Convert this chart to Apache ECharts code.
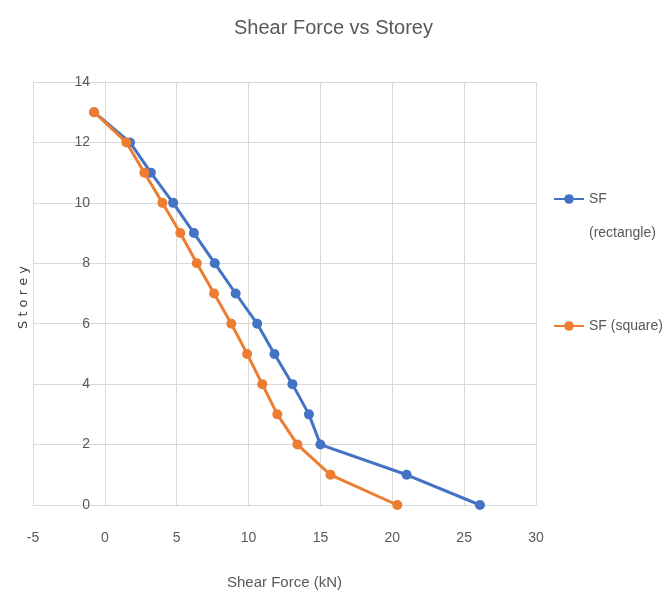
<!DOCTYPE html>
<html>
<head>
<meta charset="utf-8">
<script src="https://cdn.jsdelivr.net/npm/echarts@6/dist/echarts.min.js"></script>
<style>
  html, body { margin: 0; padding: 0; background: #fff; }
  #main { width: 669px; height: 596px; }
</style>
</head>
<body>
<div id="main"></div>
<script>
// storey levels (y) and shear force values (x)
var storeys = [13, 12, 11, 10, 9, 8, 7, 6, 5, 4, 3, 2, 1, 0];
var sfRectangle = [-0.75, 1.75, 3.2, 4.75, 6.2, 7.65, 9.1, 10.6, 11.8, 13.05, 14.2, 15.0, 21.0, 26.1];
var sfSquare = [-0.75, 1.5, 2.75, 4.0, 5.25, 6.4, 7.6, 8.8, 9.9, 10.95, 12.0, 13.4, 15.7, 20.35];
var xTicks = [-5, 0, 5, 10, 15, 20, 25, 30];
var yTicks = [0, 2, 4, 6, 8, 10, 12, 14];

var font = '"Liberation Sans", sans-serif';

function pairs(xs) {
    var out = [];
    for (var i = 0; i < xs.length; i++) {
        out.push([xs[i], storeys[i]]);
    }
    return out;
}

var myChart = echarts.init(document.getElementById('main'), null, {renderer: 'canvas'});

var option = {
    backgroundColor: '#fff',
    animation: false,
    title: {
        text: 'Shear Force vs Storey',
        left: 229,
        top: 13,
        textStyle: {color: '#595959', fontSize: 20, fontWeight: 'normal', fontFamily: font}
    },
    legend: [{
        data: ['SF (rectangle)'],
        left: 548,
        top: 143,
        itemWidth: 30,
        itemHeight: 12,
        itemGap: 0,
        // leading blank line keeps "SF" level with the icon
        formatter: function () { return '\nSF\n(rectangle)'; },
        textStyle: {color: '#595959', fontSize: 14, fontFamily: font, lineHeight: 34}
    }, {
        data: ['SF (square)'],
        left: 548,
        top: 314,
        itemWidth: 30,
        itemHeight: 12,
        textStyle: {color: '#595959', fontSize: 14, fontFamily: font}
    }],
    grid: {left: 33, right: 133, top: 82, bottom: 91, containLabel: false},
    xAxis: {
        type: 'value',
        min: xTicks[0],
        max: xTicks[xTicks.length - 1],
        interval: 5,
        name: 'Shear Force (kN)',
        nameLocation: 'middle',
        nameGap: 70,
        nameTextStyle: {color: '#595959', fontSize: 15, fontFamily: font},
        axisLine: {show: true, onZero: false, lineStyle: {color: '#d9d9d9'}},
        axisTick: {show: false},
        axisLabel: {color: '#595959', fontSize: 14, fontFamily: font, margin: 26},
        splitLine: {show: true, lineStyle: {color: '#d9d9d9'}}
    },
    yAxis: {
        type: 'value',
        min: yTicks[0],
        max: yTicks[yTicks.length - 1],
        interval: 2,
        // y axis sits on x = 0 as in the spreadsheet chart
        offset: -72,
        axisLine: {show: true, onZero: false, lineStyle: {color: '#d9d9d9'}},
        axisTick: {show: false},
        axisLabel: {color: '#595959', fontSize: 14, fontFamily: font, margin: 15},
        splitLine: {show: true, lineStyle: {color: '#d9d9d9'}}
    },
    graphic: [{
        type: 'text',
        left: 17,
        top: 266,
        rotation: Math.PI / 2,
        style: {
            text: 'S t o r e y',
            fill: '#404040',
            font: '13px "DejaVu Sans", sans-serif'
        }
    }],
    series: [{
        name: 'SF (rectangle)',
        type: 'line',
        data: pairs(sfRectangle),
        symbol: 'circle',
        symbolSize: 10,
        lineStyle: {color: '#4472C4', width: 3},
        itemStyle: {color: '#4472C4'},
        z: 2
    }, {
        name: 'SF (square)',
        type: 'line',
        data: pairs(sfSquare),
        symbol: 'circle',
        symbolSize: 10,
        lineStyle: {color: '#ED7D31', width: 3},
        itemStyle: {color: '#ED7D31'},
        z: 3
    }]
};

myChart.setOption(option);
</script>
</body>
</html>
